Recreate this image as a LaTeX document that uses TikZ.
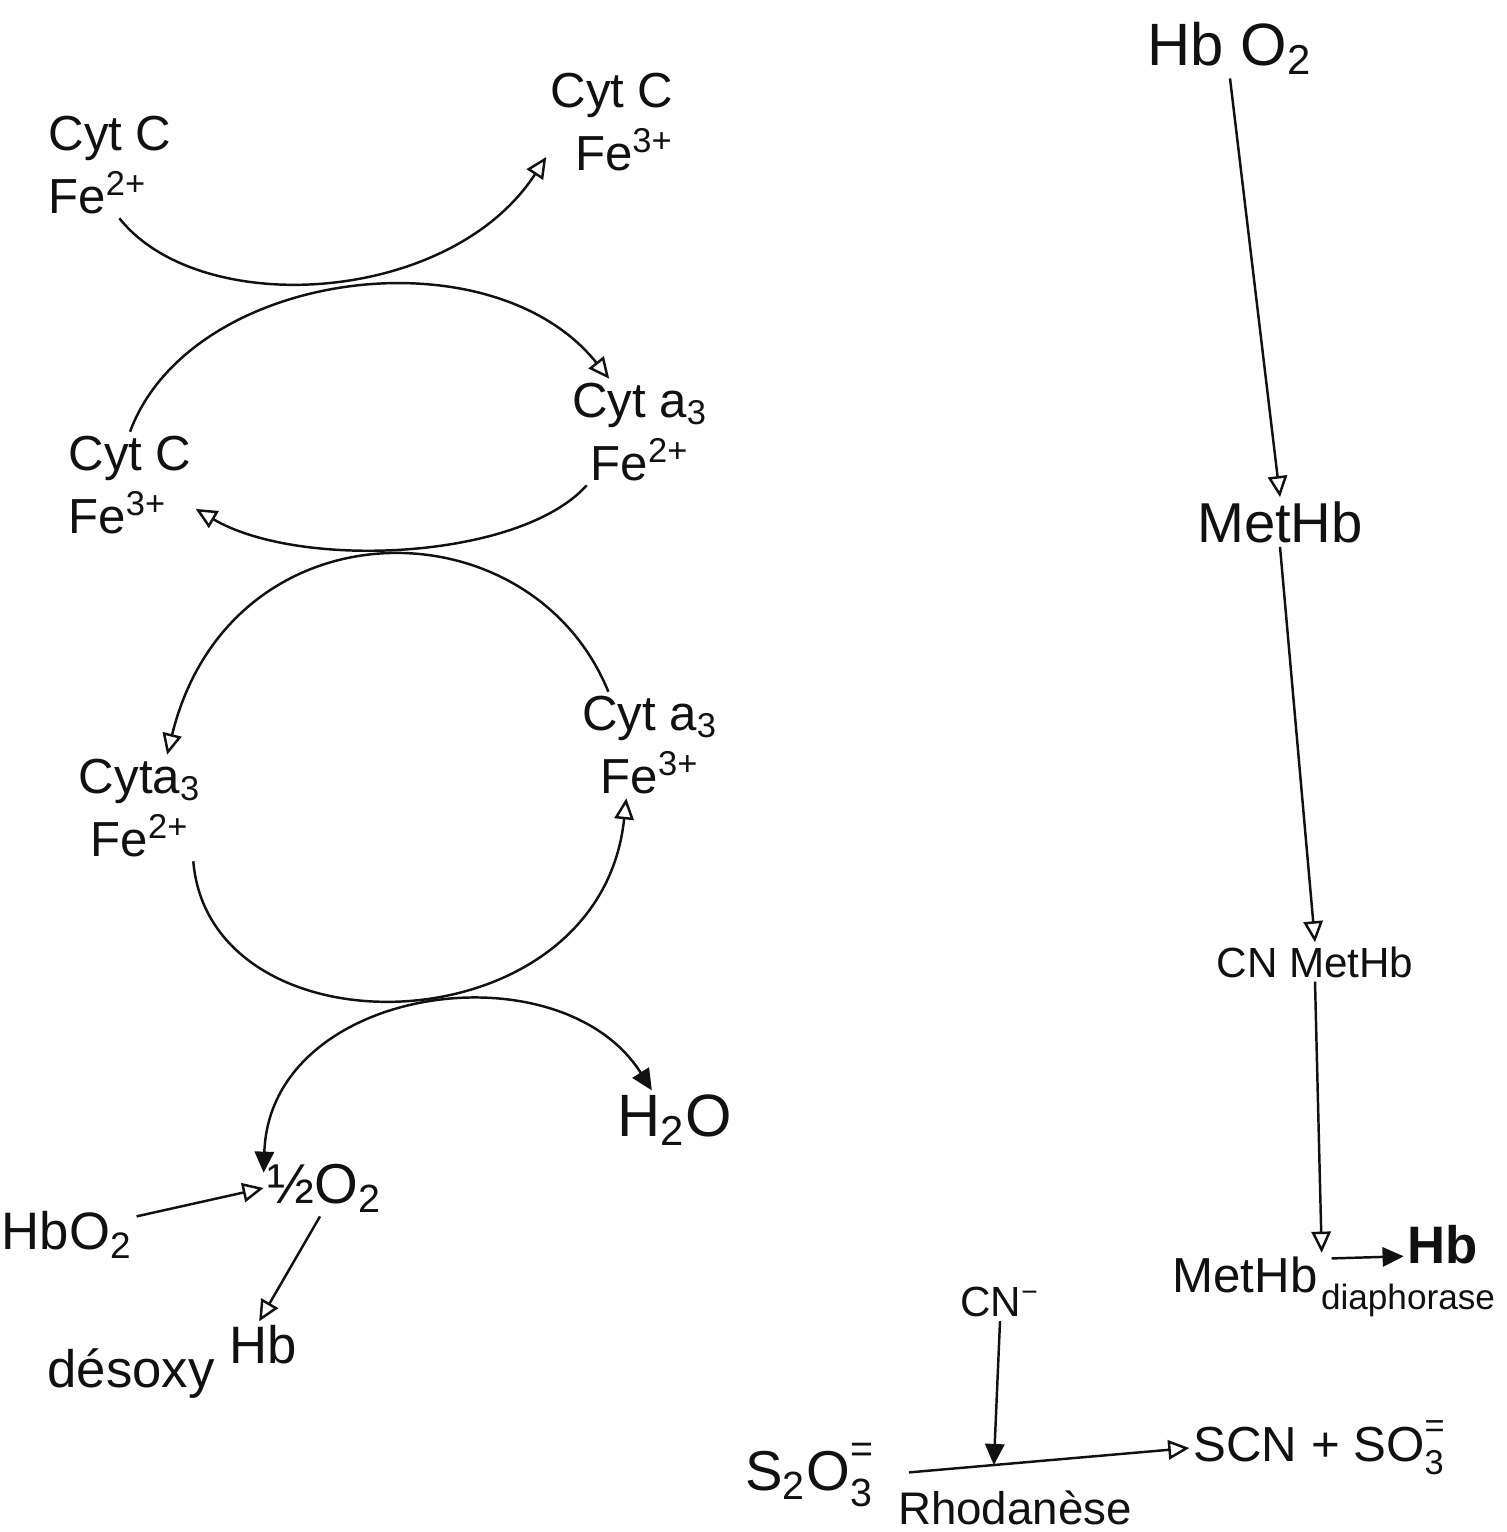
\documentclass[tikz,border=0pt]{standalone}
\usepackage{amsmath}
\usepackage{fontspec}
\setmainfont{Liberation Sans}
\usepackage{tikz}
\usetikzlibrary{arrows.meta}
\definecolor{Ink}{HTML}{111111}
\tikzset{
  chem/.style={inner sep=1pt,text=Ink},
  flow/.style={draw=Ink,line width=0.7pt,-{Triangle[open,length=6pt,width=5.5pt]}},
  flowfull/.style={draw=Ink,line width=0.7pt,-{Triangle[length=6pt,width=5.5pt]}},
  flowboth/.style={draw=Ink,line width=0.7pt,{Triangle[length=6pt,width=5.5pt]}-{Triangle[length=6pt,width=5.5pt]}}
}
\newcommand{\cytfont}{\fontsize{14}{18}\selectfont}
\newcommand{\ionq}[2]{$^{\text{\raisebox{0.15em}{#1}}}_{\text{#2}}$}

\begin{document}
\begin{tikzpicture}[x=0.1mm,y=-0.1mm]
\path[use as bounding box] (0,0) rectangle (1506,1532);
% cytochrome chain
\node[chem,font=\cytfont,align=left] (cytcA) at (110,165) {Cyt C\\Fe\textsuperscript{2+}};
\node[chem,font=\cytfont,align=right] (cytcB) at (612,122) {Cyt C\\Fe\textsuperscript{3+}};
\node[chem,font=\cytfont,align=left] (cytcC) at (130,485) {Cyt C\\Fe\textsuperscript{3+}};
\node[chem,font=\cytfont,align=center] (cytaA) at (640,432) {Cyt a\textsubscript{3}\\Fe\textsuperscript{2+}};
\node[chem,font=\cytfont,align=center] (cytaB) at (140,808) {Cyta\textsubscript{3}\\Fe\textsuperscript{2+}};
\node[chem,font=\cytfont,align=center] (cytaC) at (650,745) {Cyt a\textsubscript{3}\\Fe\textsuperscript{3+}};
\node[chem,font=\fontsize{17}{20}\selectfont] (water) at (675,1120) {H\textsubscript{2}O};
\node[chem,font=\fontsize{16}{18}\selectfont] (halfox) at (325,1188) {½O\textsubscript{2}};
\node[chem,font=\fontsize{15}{18}\selectfont] (oxyL) at (67,1235) {HbO\textsubscript{2}};
\node[chem,font=\fontsize{15}{18}\selectfont] (desoxy) at (172,1362) {désoxy \raisebox{0.45em}{Hb}};
\draw[flow] (cytcA.-80) .. controls (200,320) and (450,305) .. (cytcB.208);
\draw[flow] (cytcC.north) .. controls (190,270) and (490,230) .. (cytaA.120);
\draw[flow] (cytaA.225) .. controls (520,560) and (300,570) .. (cytcC.-20);
\draw[flow] (cytaC.128) .. controls (530,500) and (230,500) .. (cytaB.63);
\draw[flow] (cytaB.-45) .. controls (210,1060) and (600,1050) .. (cytaC.246);
\draw[flowboth] (halfox.166) .. controls (270,985) and (560,945) .. (water.128);
\draw[flow] (oxyL.15) -- (halfox.west);
\draw[flow] (halfox.-100) -- (desoxy.25);
% methemoglobin chain
\node[chem,font=\fontsize{17}{20}\selectfont] (oxyR) at (1230,48) {Hb O\textsubscript{2}};
\node[chem,font=\fontsize{16}{18}\selectfont] (metA) at (1280,522) {MetHb};
\node[chem,font=\fontsize{12}{14}\selectfont] (cnmet) at (1315,962) {CN MetHb};
\node[chem,font=\fontsize{14}{16}\selectfont] (metB) at (1245,1275) {MetHb};
\node[chem,font=\bfseries\fontsize{15}{18}\selectfont] (hb) at (1443,1245) {Hb};
\node[chem,font=\fontsize{10}{12}\selectfont] (diaph) at (1408,1300) {diaphorase};
\draw[flow] (oxyR.south) -- (metA.north);
\draw[flow] (metA.south) -- (cnmet.north);
\draw[flow] (cnmet.south) -- (metB.north east);
\draw[flowfull,shorten <=1mm] (metB.12) -- (hb.196);
% rhodanese
\node[chem,font=\fontsize{12}{14}\selectfont] (cyan) at (1000,1302) {CN\textsuperscript{−}};
\node[chem,font=\fontsize{16}{18}\selectfont] (thio) at (810,1475) {S\textsubscript{2}O\ionq{=}{3}};
\node[chem,font=\fontsize{14}{16}\selectfont] (prod) at (1320,1448) {SCN + SO\ionq{=}{3}};
\node[chem,font=\fontsize{13}{16}\selectfont] (rhod) at (1015,1508) {Rhodanèse};
\draw[flow,shorten <=3mm] (thio.east) -- coordinate[pos=0.37] (rhx) (prod.west);
\draw[flowfull] (cyan.south) -- (rhx);
\end{tikzpicture}
\end{document}
